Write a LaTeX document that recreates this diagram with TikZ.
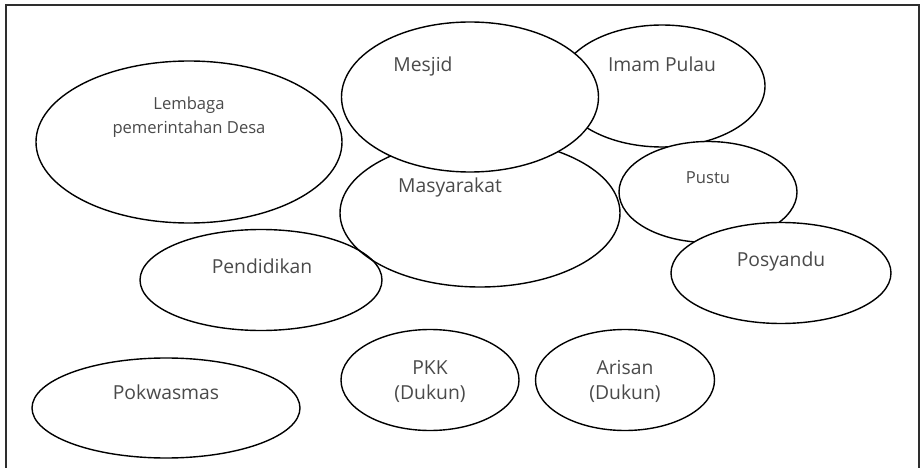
\documentclass[tikz,border=0pt]{standalone}
\usepackage{fontspec}
\setmainfont{Open Sans}
\usetikzlibrary{shapes.geometric}
\definecolor{txtgray}{HTML}{4A4A4A}
\definecolor{framegray}{HTML}{2E2E2E}
\tikzset{
  blob/.style={ellipse, draw=black, line width=1.4pt, fill=white, inner sep=0pt, outer sep=0pt},
  bigtxt/.style={anchor=base, text=txtgray, font=\fontsize{19.3}{22}\selectfont, inner sep=0pt},
  smalltxt/.style={anchor=base, text=txtgray, font=\fontsize{16.6}{20}\selectfont, inner sep=0pt},
}
\begin{document}
\begin{tikzpicture}[x=1pt,y=-1pt]
\useasboundingbox (0,0) rectangle (922,468);
\fill[white] (0,0) rectangle (922,468);
% frame
\draw[framegray, line width=2pt] (6,470) -- (6,5) -- (919,5) -- (919,470);
% ellipses (drawing order matters)
\node[blob, minimum width=306pt, minimum height=162pt] (lem) at (189,142) {};
\node[blob, minimum width=206pt, minimum height=122pt] (imam) at (662,86) {};
\node[blob, minimum width=280pt, minimum height=148pt] (mas) at (480,213) {};
\node[blob, minimum width=257pt, minimum height=150pt] (mes) at (470,97) {};
\node[blob, minimum width=178pt, minimum height=101pt] (pus) at (708,192) {};
\node[blob, minimum width=220pt, minimum height=101pt] (pos) at (781,273) {};
\node[blob, fill=none, minimum width=242pt, minimum height=101pt] (pen) at (261,280) {};
\node[blob, minimum width=268pt, minimum height=100pt] (pok) at (166,408) {};
\node[blob, minimum width=178pt, minimum height=101pt] (pkk) at (430,380) {};
\node[blob, minimum width=179pt, minimum height=101pt] (ari) at (625,380) {};
% texts
\node[smalltxt] (t1) at (189,110) {Lembaga};
\node[smalltxt] (t2) at (189,134) {pemerintahan Desa};
\node[bigtxt] (t3) at (423,72) {Mesjid};
\node[bigtxt] (t4) at (662,72) {Imam Pulau};
\node[bigtxt] (t5) at (450,193) {Masyarakat};
\node[smalltxt] (t6) at (708,184) {Pustu};
\node[bigtxt] (t7) at (781,266) {Posyandu};
\node[bigtxt] (t8) at (262,273) {Pendidikan};
\node[bigtxt] (t9) at (166,399) {Pokwasmas};
\node[bigtxt] (t10) at (430,374) {PKK};
\node[bigtxt] (t11) at (430,399) {(Dukun)};
\node[bigtxt] (t12) at (625,374) {Arisan};
\node[bigtxt] (t13) at (625,399) {(Dukun)};
\end{tikzpicture}
\end{document}
